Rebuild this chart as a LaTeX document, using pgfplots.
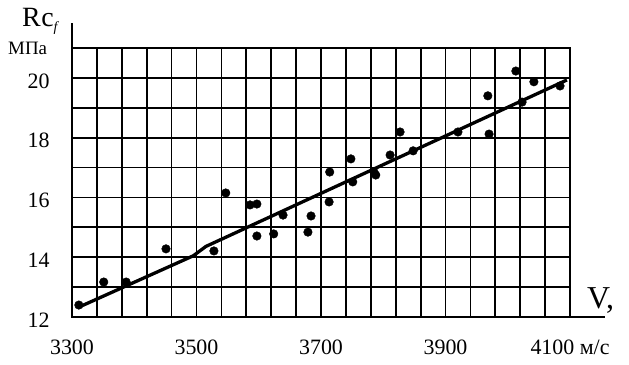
\documentclass[border=0pt]{standalone}
\usepackage{fontspec}
\setmainfont{Liberation Serif}
\usepackage{pgfplots}
\pgfplotsset{compat=1.18}
\begin{document}
\begin{tikzpicture}
\useasboundingbox (-72bp,-48bp) rectangle (557bp,317bp);
\begin{axis}[
  scale only axis, width=498bp, height=269bp,
  xmin=3300, xmax=4100, ymin=12, ymax=21,
  xtick={3300,3500,3700,3900,4100},
  xticklabels={3300,3500,3700,3900,{4100 м/с}},
  minor xtick={3340,3380,...,4060},
  ytick={12,14,16,18,20},
  yticklabels={12,14,16,18,20},
  minor ytick={13,15,17,19},
  grid=both,
  major tick length=0pt, minor tick length=0pt,
  grid style={black, line width=1.8bp},
  minor grid style={black, line width=1.8bp},
  axis line style={black, line width=2.5bp},
  tick label style={font=\fontsize{22}{22}\selectfont},
  /pgf/number format/assume math mode=true,
  xticklabel style={yshift=-19bp},
  yticklabel style={xshift=-19bp, yshift=-3bp},
  clip=false,
]
\addplot[black, line width=3.3bp] coordinates {(3311,12.33) (3495,14.05) (3515,14.36) (4095,19.93)};
\addplot[only marks, mark=*, mark size=4.3bp, black] coordinates {
(3311,12.40) (3351,13.17) (3387,13.17) (3451,14.28) (3528,14.21)
(3547,16.15) (3586,15.75) (3597,15.78) (3597,14.71) (3624,14.78)
(3639,15.41) (3679,14.84) (3684,15.38) (3714,16.85) (3713,15.85)
(3748,17.29) (3751,16.52) (3785,16.85) (3788,16.75) (3811,17.42)
(3827,18.19) (3848,17.56) (3920,18.19) (3968,19.40) (3970,18.12)
(4013,20.23) (4023,19.19) (4042,19.87) (4084,19.73)};
\draw[black, line width=2.5bp] (rel axis cs:0,1) -- (rel axis cs:0,1.093);
\draw[black, line width=2.5bp] (rel axis cs:1,0) -- (rel axis cs:1.0703,0);
\end{axis}
\node[anchor=base west, inner sep=0pt] at (-50bp,290bp) {\fontsize{28}{28}\selectfont R\kern0.5bp c\raisebox{-5bp}{\fontsize{14}{14}\selectfont\itshape f}};
\node[anchor=base west, inner sep=0pt] at (-64bp,262bp) {\fontsize{19}{19}\selectfont МПа};
\node[anchor=base west, inner sep=0pt] at (515bp,9bp) {\fontsize{32}{32}\selectfont V,};
\end{tikzpicture}
\end{document}
